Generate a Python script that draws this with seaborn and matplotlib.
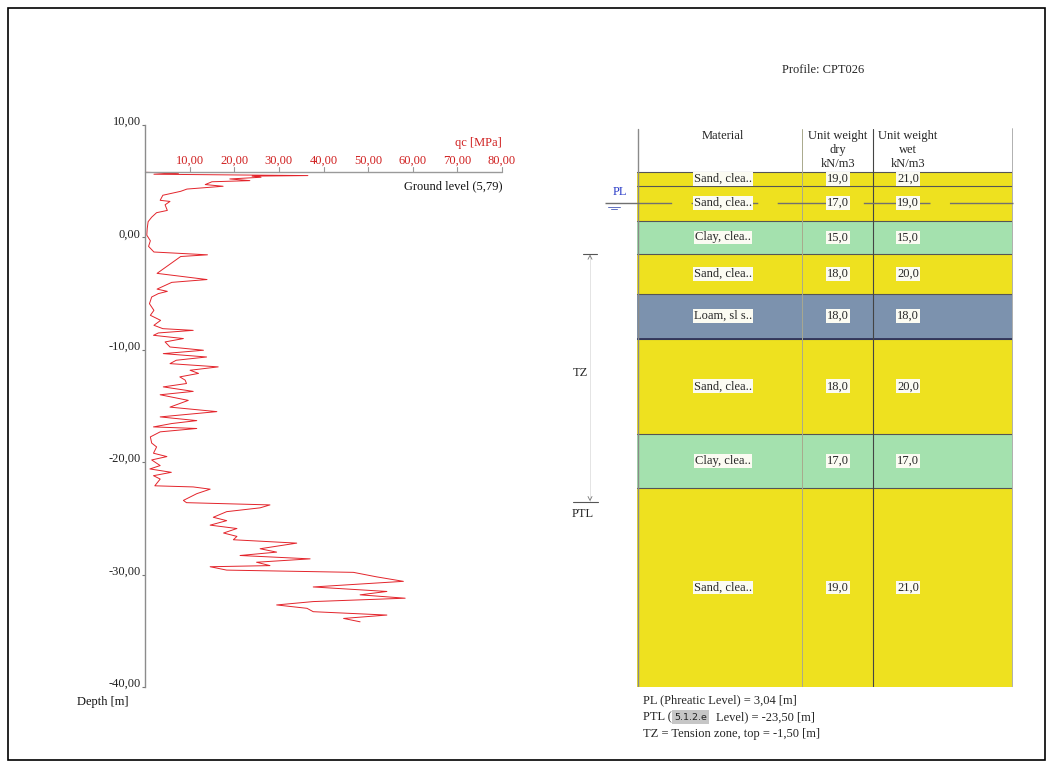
import numpy as np
import pandas as pd
import matplotlib
matplotlib.use("Agg")
import matplotlib.pyplot as plt
import seaborn as sns
from matplotlib.patches import Rectangle

# ---- CPT sounding: level [m NAP] and cone resistance qc [MPa] ----
level = [5.79, 5.70, 5.62, 5.50, 5.45, 5.35, 5.20, 5.05, 4.95, 4.70, 4.55, 4.30, 4.10,
         3.75, 3.30, 3.20, 2.90, 2.40, 2.20, 1.80, 1.40, 0.80, 0.20, -0.30, -0.80,
         -1.30, -1.55, -1.70, -3.20, -3.75, -4.00, -4.60, -4.80, -5.00, -5.30, -5.90,
         -6.49, -6.93, -7.38, -7.82, -8.12, -8.27, -8.50, -8.71, -9.00, -9.30, -9.75,
         -10.04, -10.34, -10.64, -10.93, -11.23, -11.52, -11.82, -12.10, -12.41, -12.70,
         -13.00, -13.30, -13.70, -14.00, -14.50, -15.10, -15.50, -15.97, -16.30, -16.56,
         -16.86, -17.00, -17.30, -17.75, -18.30, -18.64, -19.20, -19.50, -19.80, -20.30,
         -20.60, -20.90, -21.20, -21.50, -21.90, -22.10, -22.20, -22.40, -22.80, -23.40,
         -23.60, -23.80, -24.06, -24.40, -24.90, -25.20, -25.60, -25.90, -26.30, -26.60,
         -26.90, -27.20, -27.70, -28.00, -28.30, -28.60, -28.90, -29.20, -29.30, -29.60,
         -29.80, -30.20, -30.60, -31.10, -31.50, -31.80, -32.10, -32.40, -32.70, -33.00,
         -33.30, -33.60, -33.90, -34.20]
qc = [0.3, 7.5, 2.0, 36.5, 24.0, 26.0, 19.0, 23.5, 15.0, 13.5, 17.5, 9.4, 8.0,
      4.0, 3.4, 5.6, 4.5, 5.0, 2.6, 1.5, 0.7, 0.5, 0.4, 1.2, 0.8,
      2.0, 14.0, 8.0, 2.7, 13.9, 6.0, 2.7, 5.0, 3.0, 1.5, 1.0,
      2.0, 1.2, 3.5, 2.0, 4.0, 10.8, 3.0, 1.9, 8.6, 4.5, 5.6,
      13.1, 4.1, 13.8, 7.0, 5.6, 16.4, 10.1, 12.0, 7.8, 9.0,
      9.3, 4.1, 10.8, 3.4, 9.7, 5.6, 16.1, 3.4, 11.6, 6.0,
      1.9, 11.6, 3.4, 1.2, 1.5, 2.6, 1.9, 4.9, 1.5, 3.4,
      1.1, 5.9, 1.9, 3.4, 2.6, 2.2, 10.8, 14.6, 11.6, 8.6,
      9.3, 28.0, 25.8, 18.3, 15.3, 18.3, 14.6, 20.6, 17.6, 20.6,
      19.8, 34.0, 25.8, 29.5, 21.3, 37.0, 25.0, 28.0, 14.6, 18.3,
      46.7, 51.9, 57.9, 37.7, 54.2, 48.2, 58.3, 37.7, 29.5, 36.3,
      37.7, 54.2, 44.5, 48.2]

ground_level = 5.79
phreatic_level = 3.04
ptl_level = -23.50
tz_top = -1.50

depth_ticks = [10, 0, -10, -20, -30, -40]
qc_ticks = [10, 20, 30, 40, 50, 60, 70, 80]

# ---- soil profile CPT026 ----
layer_top = [5.79, 4.6, 1.5, -1.5, -5.0, -9.0, -17.5, -22.3]
layer_bottom = [4.6, 1.5, -1.5, -5.0, -9.0, -17.5, -22.3, -40.0]
materials = ["Sand, clea..", "Sand, clea..", "Clay, clea..", "Sand, clea..",
             "Loam, sl s..", "Sand, clea..", "Clay, clea..", "Sand, clea.."]
gamma_dry = [19.0, 17.0, 15.0, 18.0, 18.0, 18.0, 17.0, 19.0]
gamma_wet = [21.0, 19.0, 15.0, 20.0, 18.0, 20.0, 17.0, 21.0]
soil_colors = {"Sand": "#eee11f", "Clay": "#a4e1ae", "Loam": "#7c92ae"}


def nl(v, d=2):
    return f"{v:.{d}f}".replace(".", ",")


sns.set_theme(style="white")
plt.rcParams["font.family"] = ["Liberation Serif", "DejaVu Serif"]
FS = 9.0

W, H = 1052, 767
fig = plt.figure(figsize=(W / 100, H / 100), dpi=100)
fig.patch.set_facecolor("white")


def fx(px):
    return px / W


def fy(py):
    return 1 - py / H


# ---- left panel: cone resistance against level ----
ax = fig.add_axes([fx(145), fy(687), fx(502) - fx(145), fy(125) - fy(687)])
ax.set_facecolor("white")
df = pd.DataFrame({"level": level, "qc": qc})
sns.lineplot(data=df, x="qc", y="level", sort=False, estimator=None, orient="y",
             ax=ax, color="#e3242b", lw=0.7)
ax.set_xlim(0, 80)
ax.set_ylim(-40, 10)
ax.set_xlabel("")
ax.set_ylabel("")
ax.xaxis.set_visible(False)
for s in ["top", "right", "bottom"]:
    ax.spines[s].set_visible(False)
ax.spines["left"].set_color("#8c8c8c")
ax.spines["left"].set_linewidth(1.0)
ax.set_yticks(depth_ticks)
ax.set_yticklabels([nl(v) for v in depth_ticks], fontsize=FS, color="#222222")
ax.tick_params(axis="y", length=2, width=0.8, color="#777777", pad=1, left=True)
for lab in ax.get_yticklabels():
    lab.set_verticalalignment("baseline")

# qc axis drawn at ground level
ax.plot([0, 80], [ground_level, ground_level], color="#9a9a9a", lw=1.0, clip_on=False)
for v in qc_ticks:
    ax.plot([v, v], [ground_level, ground_level + 0.5], color="#9a9a9a", lw=0.8,
            clip_on=False)
    ax.text(v, ground_level + 0.75, nl(v), ha="center", va="baseline", fontsize=FS,
            color="#d02020")
ax.text(80, ground_level + 2.3, "qc [MPa]", ha="right", va="baseline", fontsize=FS,
        color="#d02020")
ax.text(80, ground_level - 1.5, f"Ground level ({nl(ground_level)})", ha="right",
        va="baseline", fontsize=FS, color="#111111")
fig.text(fx(77), fy(705), "Depth [m]", ha="left", va="baseline", fontsize=FS,
         color="#111111")

# ---- right panel: layer table ----
tab = fig.add_axes([fx(637), fy(687), fx(1013) - fx(637), fy(125) - fy(687)])
tab.set_xlim(0, 376)
tab.set_ylim(-40, 10)
tab.axis("off")

col_mat, col_dry, col_wet = 86, 201, 271
header_top = 9.6

for top, bot, mat, gd, gw in zip(layer_top, layer_bottom, materials, gamma_dry, gamma_wet):
    color = soil_colors[mat.split(",")[0]]
    tab.bar(188, top - bot, bottom=bot, width=376, color=color, edgecolor="none",
            zorder=1)
    tab.plot([0, 376], [top, top], color="#555555", lw=0.8, zorder=2)
    mid = (top + bot) / 2
    box = dict(facecolor="#fbfbf2", edgecolor="none", pad=0.6)
    tab.text(col_mat, mid, mat, ha="center", va="center", fontsize=FS, bbox=box, zorder=4)
    tab.text(col_dry, mid, nl(gd, 1), ha="center", va="center", fontsize=FS, bbox=box,
             zorder=4)
    tab.text(col_wet, mid, nl(gw, 1), ha="center", va="center", fontsize=FS, bbox=box,
             zorder=4)
# firmer line below the loam layer
tab.plot([0, 376], [-9.0, -9.0], color="#30345a", lw=1.3, zorder=2)

# column rules
tab.plot([1, 1], [-40, header_top], color="#8a8a8a", lw=1.0, zorder=3)
tab.plot([165, 165], [-40, header_top], color="#a9a98c", lw=0.7, zorder=3)
tab.plot([236, 236], [-40, header_top], color="#444444", lw=0.8, zorder=3)
tab.plot([375.5, 375.5], [-40, header_top], color="#b0b0b0", lw=1.4, zorder=3)

# header
tab.text(col_mat, 9.55, "Material", ha="center", va="top", fontsize=FS)
tab.text(col_dry, 9.55, "Unit weight\ndry\nkN/m3", ha="center", va="top", fontsize=FS,
         linespacing=1.2)
tab.text(col_wet, 9.55, "Unit weight\nwet\nkN/m3", ha="center", va="top", fontsize=FS,
         linespacing=1.2)

# phreatic level
tab.plot([-32, 376], [phreatic_level, phreatic_level], color="#707070", lw=1.0,
         ls=(0, (48, 14)), clip_on=False, zorder=3)
tab.text(-17, phreatic_level + 0.45, "PL", ha="center", va="bottom", fontsize=FS,
         color="#2a3cc8")
tab.plot([-29, -17], [phreatic_level - 0.3, phreatic_level - 0.3], color="#6070c0",
         lw=0.7, clip_on=False)
tab.plot([-26, -20], [phreatic_level - 0.5, phreatic_level - 0.5], color="#6070c0",
         lw=0.7, clip_on=False)

# tension zone and PTL markers
tab.plot([-47, -47], [ptl_level, tz_top], color="#e4e4e4", lw=0.7, clip_on=False)
tab.plot([-54, -40], [tz_top, tz_top], color="#555555", lw=0.8, clip_on=False)
tab.plot([-49, -47, -45], [tz_top - 0.45, tz_top - 0.1, tz_top - 0.45],
         color="#777777", lw=0.6, clip_on=False)
tab.text(-57, -12.1, "TZ", ha="center", va="center", fontsize=FS)
tab.plot([-64, -39], [ptl_level, ptl_level], color="#555555", lw=0.8, clip_on=False)
tab.plot([-49, -47, -45], [ptl_level + 0.45, ptl_level + 0.1, ptl_level + 0.45],
         color="#777777", lw=0.6, clip_on=False)
tab.text(-54, ptl_level - 0.55, "PTL", ha="center", va="top", fontsize=FS)

# legend notes below the table
fig.text(fx(643), fy(703), f"PL (Phreatic Level) = {nl(phreatic_level)} [m]",
         ha="left", va="baseline", fontsize=FS)
fig.text(fx(643), fy(720), "PTL (", ha="left", va="baseline", fontsize=FS)
fig.text(fx(674), fy(719.5), "5.1.2.e", ha="left", va="baseline", fontsize=6.8,
         family="DejaVu Sans", color="#222222",
         bbox=dict(facecolor="#c6c6c6", edgecolor="none", pad=1.6))
fig.text(fx(716), fy(720), f"Level) = {nl(ptl_level)} [m]", ha="left",
         va="baseline", fontsize=FS)
fig.text(fx(643), fy(737), f"TZ = Tension zone, top = {nl(tz_top)} [m]",
         ha="left", va="baseline", fontsize=FS)

fig.text(fx(823), fy(70), "Profile: CPT026", ha="center", va="center", fontsize=FS)

# page frame
fig.add_artist(Rectangle((fx(8), fy(760)), fx(1045) - fx(8), fy(8) - fy(760),
                         transform=fig.transFigure, fill=False, edgecolor="black",
                         lw=1.2))

fig.savefig("out.png", dpi=100, facecolor="white")
